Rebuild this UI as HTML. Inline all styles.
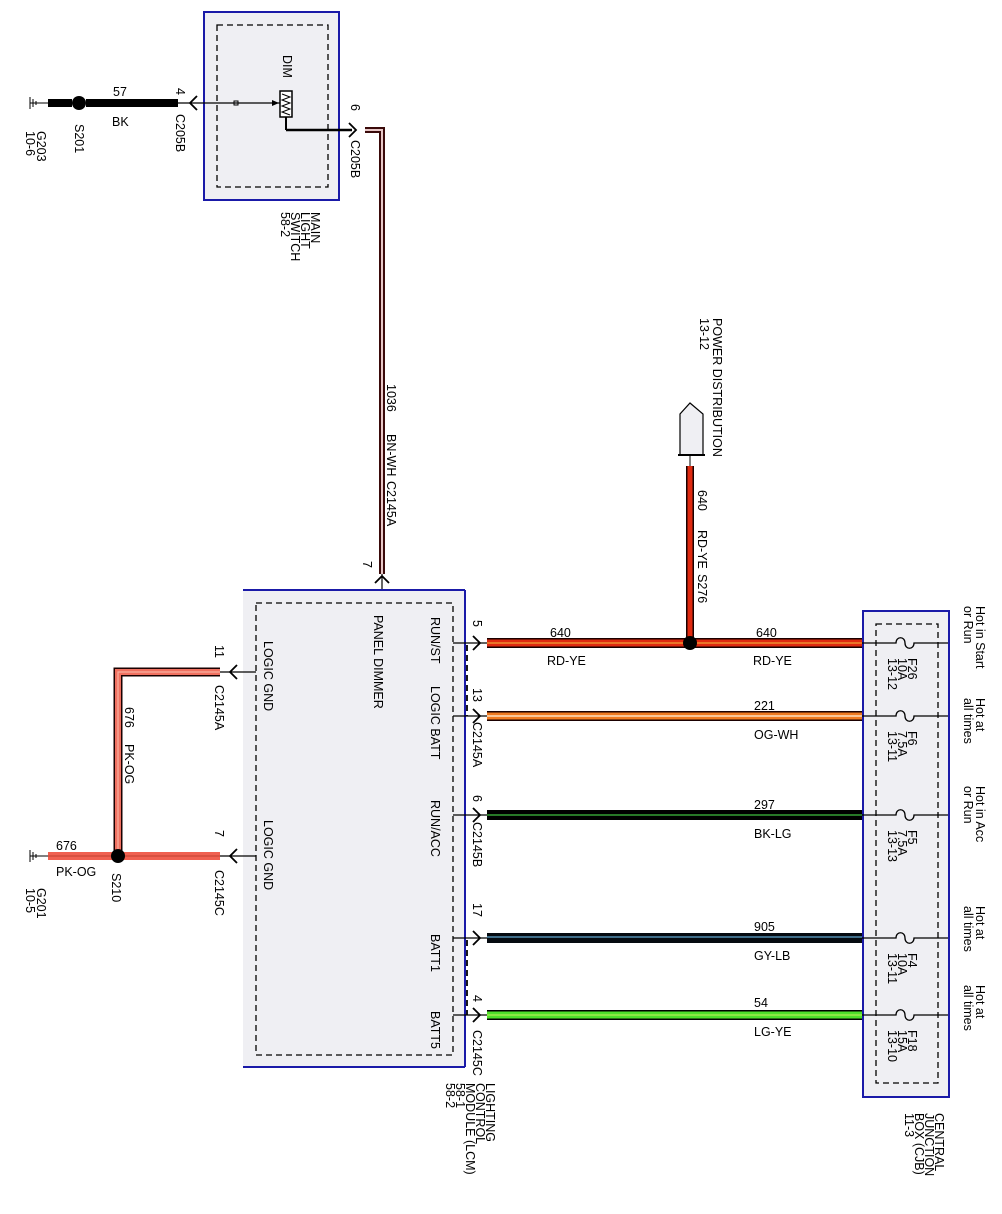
<!DOCTYPE html>
<html><head><meta charset="utf-8"><style>
html,body{margin:0;padding:0;background:#fff}
svg{display:block}
text{font-family:"Liberation Sans",Arial,sans-serif;font-size:12.5px;fill:#000}
</style></head><body>
<svg width="1002" height="1214" viewBox="0 0 1002 1214" xmlns="http://www.w3.org/2000/svg">

<!-- MAIN LIGHT SWITCH -->
<rect x="204" y="12" width="135" height="188" fill="#efeff3" stroke="#1a1aa8" stroke-width="2"/>
<rect x="217" y="25" width="111" height="162" fill="none" stroke="#000" stroke-width="1.3" stroke-dasharray="6,4"/>
<!-- ground G203 -->
<line x1="30" y1="97" x2="30" y2="109" stroke="#000"/>
<line x1="33" y1="99" x2="33" y2="107" stroke="#000"/>
<line x1="36" y1="101" x2="36" y2="105" stroke="#000"/>
<line x1="30" y1="103" x2="48" y2="103" stroke="#000"/>
<rect x="48" y="99" width="24" height="8" fill="#000"/>
<circle cx="79" cy="103" r="7" fill="#000"/>
<rect x="86" y="99" width="92" height="8" fill="#000"/>
<line x1="178" y1="103" x2="280" y2="103" stroke="#000" stroke-width="1.2"/>
<path d="M197,96 L190,103 L197,110" fill="none" stroke="#000" stroke-width="1.8"/>
<rect x="234" y="101" width="4" height="4" fill="none" stroke="#000"/>
<path d="M272,100 L279,103 L272,106" fill="#000"/>
<rect x="280" y="91" width="12" height="26" fill="#fff" stroke="#000" stroke-width="1.5"/>
<path d="M282,94 L290,97 L282,100 L290,103 L282,106 L290,109 L282,112 L290,115" fill="none" stroke="#000"/>
<line x1="286" y1="117" x2="286" y2="130" stroke="#000" stroke-width="2"/>
<line x1="286" y1="130" x2="352" y2="130" stroke="#000" stroke-width="2.5"/>
<path d="M349,123 L356,130 L349,137" fill="none" stroke="#000" stroke-width="1.8"/>
<!-- brown wire 1036 -->
<path d="M365,130 L382,130 L382,574" fill="none" stroke="#3a0a0a" stroke-width="6"/>
<path d="M365,130 L382,130 L382,574" fill="none" stroke="#e8c8c8" stroke-width="2"/>
<line x1="382" y1="574" x2="382" y2="603" stroke="#000" stroke-width="1.2"/>
<path d="M375,583 L382,576 L389,583" fill="none" stroke="#000" stroke-width="1.8"/>

<g>
<text transform="translate(283,55) rotate(90)" font-size="11.5">DIM</text>
<text transform="translate(176,88) rotate(90)">4</text>
<text transform="translate(176,114) rotate(90)">C205B</text>
<text transform="translate(351,104) rotate(90)">6</text>
<text transform="translate(351,140) rotate(90)">C205B</text>
<text x="113" y="96">57</text>
<text x="112" y="126">BK</text>
<text transform="translate(75,124) rotate(90)">S201</text>
<text transform="translate(37,131) rotate(90)">G203</text>
<text transform="translate(26,131) rotate(90)">10-6</text>
<text transform="translate(311,212) rotate(90)" font-size="11.5">MAIN</text>
<text transform="translate(301,212) rotate(90)" font-size="11.5">LIGHT</text>
<text transform="translate(291,212) rotate(90)" font-size="11.5">SWITCH</text>
<text transform="translate(281,212) rotate(90)" font-size="11.5">58-2</text>
<text transform="translate(387,384) rotate(90)">1036</text>
<text transform="translate(387,434) rotate(90)">BN-WH</text>
<text transform="translate(387,481) rotate(90)">C2145A</text>
<text transform="translate(363,561) rotate(90)">7</text>
</g>

<!-- LCM -->
<rect x="243" y="590" width="222" height="477" fill="#efeff3"/>
<line x1="243" y1="590" x2="465" y2="590" stroke="#1a1aa8" stroke-width="2"/>
<line x1="465" y1="590" x2="465" y2="1067" stroke="#1a1aa8" stroke-width="2"/>
<line x1="243" y1="1067" x2="465" y2="1067" stroke="#1a1aa8" stroke-width="2"/>
<rect x="256" y="603" width="197" height="452" fill="none" stroke="#000" stroke-width="1.3" stroke-dasharray="6,4"/>
<text transform="translate(374,615) rotate(90)">PANEL DIMMER</text>
<text transform="translate(431,617) rotate(90)">RUN/ST</text>
<text transform="translate(431,686) rotate(90)">LOGIC BATT</text>
<text transform="translate(431,800) rotate(90)">RUN/ACC</text>
<text transform="translate(431,934) rotate(90)">BATT1</text>
<text transform="translate(431,1011) rotate(90)">BATT5</text>
<text transform="translate(264,641) rotate(90)">LOGIC GND</text>
<text transform="translate(264,820) rotate(90)">LOGIC GND</text>

<line x1="467" y1="645" x2="467" y2="716" stroke="#000" stroke-width="1.8" stroke-dasharray="6,4"/>
<line x1="467" y1="940" x2="467" y2="1015" stroke="#000" stroke-width="1.8" stroke-dasharray="6,4"/>

<g stroke="#000" stroke-width="1.2">
<line x1="453" y1="643" x2="488" y2="643"/>
<line x1="453" y1="716" x2="488" y2="716"/>
<line x1="453" y1="815" x2="488" y2="815"/>
<line x1="453" y1="938" x2="488" y2="938"/>
<line x1="453" y1="1015" x2="488" y2="1015"/>
</g>
<g fill="none" stroke="#000" stroke-width="1.8">
<path d="M473,636 L480,643 L473,650"/>
<path d="M473,709 L480,716 L473,723"/>
<path d="M473,808 L480,815 L473,822"/>
<path d="M473,931 L480,938 L473,945"/>
<path d="M473,1008 L480,1015 L473,1022"/>
</g>
<rect x="487" y="638" width="375" height="10" fill="#1a0000"/>
<rect x="487" y="639.5" width="375" height="7" fill="#e02a10"/>
<line x1="487" y1="643" x2="862" y2="643" stroke="#f3c040" stroke-width="1"/>
<rect x="487" y="711" width="375" height="10" fill="#1a0000"/>
<rect x="487" y="712.5" width="375" height="7" fill="#f07a20"/>
<line x1="487" y1="716" x2="862" y2="716" stroke="#fff3e0" stroke-width="1.2"/>
<rect x="487" y="810" width="375" height="10" fill="#000"/>
<line x1="487" y1="815" x2="862" y2="815" stroke="#40c040" stroke-width="1.2"/>
<rect x="487" y="933" width="375" height="10" fill="#050a10"/>
<line x1="487" y1="937" x2="862" y2="937" stroke="#60a8d0" stroke-width="1.2"/>
<rect x="487" y="1010" width="375" height="10" fill="#000"/>
<rect x="487" y="1011.5" width="375" height="7" fill="#4ee02a"/>
<line x1="487" y1="1015" x2="862" y2="1015" stroke="#c8f060" stroke-width="1"/>

<rect x="686" y="466" width="8" height="174" fill="#1a0000"/>
<rect x="687.5" y="466" width="5" height="174" fill="#e02a10"/>
<line x1="690" y1="455" x2="690" y2="466" stroke="#000"/>
<circle cx="690" cy="643" r="7" fill="#000"/>
<path d="M680,455 L680,414 L690,403 L703,414 L703,455 Z" fill="#efeff3" stroke="#000" stroke-width="1.2"/>
<line x1="678" y1="455" x2="705" y2="455" stroke="#000" stroke-width="2"/>
<text transform="translate(713,318) rotate(90)">POWER DISTRIBUTION</text>
<text transform="translate(700,318) rotate(90)">13-12</text>
<text transform="translate(698,490) rotate(90)">640</text>
<text transform="translate(698,530) rotate(90)">RD-YE</text>
<text transform="translate(698,574) rotate(90)">S276</text>

<text x="550" y="637">640</text>
<text x="547" y="665">RD-YE</text>
<text x="756" y="637">640</text>
<text x="753" y="665">RD-YE</text>
<text x="754" y="710">221</text>
<text x="754" y="739">OG-WH</text>
<text x="754" y="809">297</text>
<text x="754" y="838">BK-LG</text>
<text x="754" y="931">905</text>
<text x="754" y="960">GY-LB</text>
<text x="754" y="1007">54</text>
<text x="754" y="1036">LG-YE</text>

<text transform="translate(473,620) rotate(90)">5</text>
<text transform="translate(473,688) rotate(90)">13</text>
<text transform="translate(473,722) rotate(90)">C2145A</text>
<text transform="translate(473,795) rotate(90)">6</text>
<text transform="translate(473,822) rotate(90)">C2145B</text>
<text transform="translate(473,903) rotate(90)">17</text>
<text transform="translate(473,995) rotate(90)">4</text>
<text transform="translate(473,1030) rotate(90)">C2145C</text>

<text transform="translate(486,1083) rotate(90)" font-size="11.5">LIGHTING</text>
<text transform="translate(476,1083) rotate(90)" font-size="11.5">CONTROL</text>
<text transform="translate(466,1083) rotate(90)" font-size="11.5">MODULE (LCM)</text>
<text transform="translate(456,1083) rotate(90)" font-size="11.5">58-1</text>
<text transform="translate(446,1083) rotate(90)" font-size="11.5">58-2</text>

<rect x="863" y="611" width="86" height="486" fill="#efeff3" stroke="#1a1aa8" stroke-width="2"/>
<rect x="876" y="624" width="62" height="459" fill="none" stroke="#000" stroke-width="1.3" stroke-dasharray="6,4"/>
<g fill="none" stroke="#000" stroke-width="1.3">
<path d="M862,643 L896,643 C896,636 905,636 905,643 C905,650 914,650 914,643 L948,643"/>
<path d="M862,716 L896,716 C896,709 905,709 905,716 C905,723 914,723 914,716 L948,716"/>
<path d="M862,815 L896,815 C896,808 905,808 905,815 C905,822 914,822 914,815 L948,815"/>
<path d="M862,938 L896,938 C896,931 905,931 905,938 C905,945 914,945 914,938 L948,938"/>
<path d="M862,1015 L896,1015 C896,1008 905,1008 905,1015 C905,1022 914,1022 914,1015 L948,1015"/>
</g>
<g font-size="11.5">
<text transform="translate(908,658) rotate(90)">F26</text>
<text transform="translate(898,658) rotate(90)">10A</text>
<text transform="translate(888,658) rotate(90)">13-12</text>
<text transform="translate(908,731) rotate(90)">F6</text>
<text transform="translate(898,731) rotate(90)">7.5A</text>
<text transform="translate(888,731) rotate(90)">13-11</text>
<text transform="translate(908,830) rotate(90)">F5</text>
<text transform="translate(898,830) rotate(90)">7.5A</text>
<text transform="translate(888,830) rotate(90)">13-13</text>
<text transform="translate(908,953) rotate(90)">F4</text>
<text transform="translate(898,953) rotate(90)">10A</text>
<text transform="translate(888,953) rotate(90)">13-11</text>
<text transform="translate(908,1030) rotate(90)">F18</text>
<text transform="translate(898,1030) rotate(90)">15A</text>
<text transform="translate(888,1030) rotate(90)">13-10</text>
</g>
<g font-size="12.5">
<text transform="translate(976,606) rotate(90)">Hot in Start</text>
<text transform="translate(964,606) rotate(90)">or Run</text>
<text transform="translate(976,698) rotate(90)">Hot at</text>
<text transform="translate(964,698) rotate(90)">all times</text>
<text transform="translate(976,786) rotate(90)">Hot in Acc</text>
<text transform="translate(964,786) rotate(90)">or Run</text>
<text transform="translate(976,906) rotate(90)">Hot at</text>
<text transform="translate(964,906) rotate(90)">all times</text>
<text transform="translate(976,985) rotate(90)">Hot at</text>
<text transform="translate(964,985) rotate(90)">all times</text>
</g>
<g font-size="11.5">
<text transform="translate(935,1113) rotate(90)">CENTRAL</text>
<text transform="translate(925,1113) rotate(90)">JUNCTION</text>
<text transform="translate(915,1113) rotate(90)">BOX (CJB)</text>
<text transform="translate(905,1113) rotate(90)">11-3</text>
</g>

<g stroke="#000" stroke-width="1.2">
<line x1="220" y1="672" x2="256" y2="672"/>
<line x1="220" y1="856" x2="256" y2="856"/>
</g>
<path d="M237,665 L230,672 L237,679" fill="none" stroke="#000" stroke-width="1.8"/>
<path d="M237,849 L230,856 L237,863" fill="none" stroke="#000" stroke-width="1.8"/>
<path d="M220,672 L118,672 L118,856" fill="none" stroke="#1a0000" stroke-width="9"/>
<path d="M220,672 L118,672 L118,856" fill="none" stroke="#f07060" stroke-width="6"/>
<path d="M220,672 L118,672 L118,856" fill="none" stroke="#f8b0a0" stroke-width="1.2"/>
<rect x="48" y="852" width="172" height="8" fill="#f06050"/>
<line x1="48" y1="856" x2="220" y2="856" stroke="#c04030" stroke-width="1"/>
<circle cx="118" cy="856" r="7" fill="#000"/>
<line x1="30" y1="850" x2="30" y2="862" stroke="#000"/>
<line x1="33" y1="852" x2="33" y2="860" stroke="#000"/>
<line x1="36" y1="854" x2="36" y2="858" stroke="#000"/>
<line x1="30" y1="856" x2="48" y2="856" stroke="#000"/>
<text transform="translate(215,645) rotate(90)">11</text>
<text transform="translate(215,685) rotate(90)">C2145A</text>
<text transform="translate(215,830) rotate(90)">7</text>
<text transform="translate(215,870) rotate(90)">C2145C</text>
<text transform="translate(125,707) rotate(90)">676</text>
<text transform="translate(125,744) rotate(90)">PK-OG</text>
<text x="56" y="850">676</text>
<text x="56" y="876">PK-OG</text>
<text transform="translate(112,873) rotate(90)">S210</text>
<text transform="translate(37,888) rotate(90)">G201</text>
<text transform="translate(26,888) rotate(90)">10-5</text>
</svg>
</body></html>
